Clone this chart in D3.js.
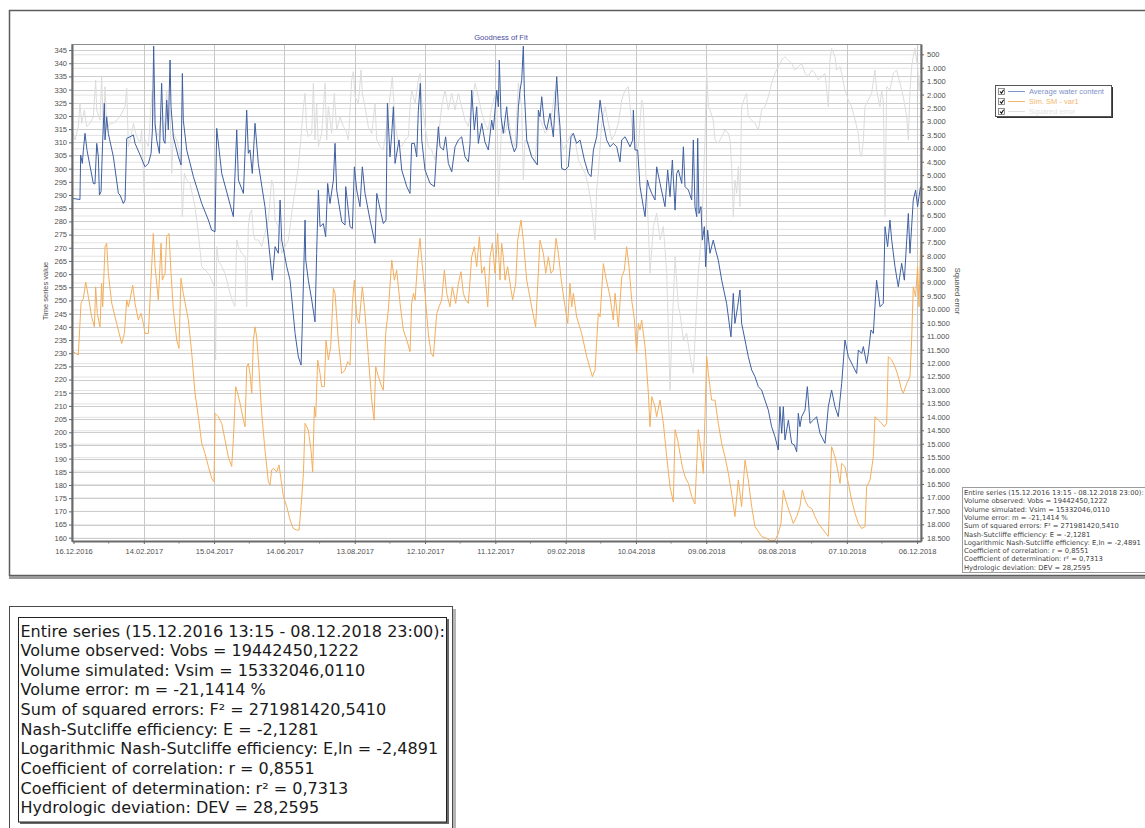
<!DOCTYPE html>
<html><head><meta charset="utf-8">
<script src="https://cdn.jsdelivr.net/npm/d3@7"></script>
<style>body{margin:0;background:#fff;overflow:hidden} svg{display:block}</style>
</head><body><svg id="c" width="1145" height="828"></svg>
<script>
// ---------- DATA ----------
const chartTitle = "Goodness of Fit";
const seriesNames = ["Average water content", "Sim. SM - var1", "Squared error"];
const baseDay = "15.12.2016"; // day offsets below are counted from this date
const xTickLabels = ["16.12.2016","14.02.2017","15.04.2017","14.06.2017","13.08.2017","12.10.2017","11.12.2017","09.02.2018","10.04.2018","09.06.2018","08.08.2018","07.10.2018","06.12.2018"];
const leftTicks = d3.range(160, 346, 5);
const rightTicks = d3.range(500, 18501, 500);

const obsDay = [0.6,6.5,7.1,8.5,9.4,10.8,12.5,17.9,19.3,20.8,22.2,23.1,24.5,25.9,27.3,27.9,29.3,30.7,35,39.3,40.7,43.5,45,46.4,49.2,52.1,53.5,57.8,62,64.9,67.2,68.3,69.4,70.6,72,74.3,76.2,77.7,79.1,80.5,81.9,83.4,84.2,86.2,90.5,92.8,93.9,94.7,97.6,103.3,110.4,116.1,118.9,121.8,123.2,127.5,137.4,140.3,141.7,146,148.8,150.2,151.6,153.6,155.9,158.7,164.4,168.7,170.7,173,175.8,177.3,178.7,183,185.8,190.1,192.9,195.2,196.3,198.6,199.2,201.4,204.3,207.1,208.5,210,211.4,214.2,216.2,217.9,219.9,222.8,224.2,225.6,229.9,232.7,233.3,237,239,240.7,242.7,245.5,247.5,249.8,254.1,258.3,259.8,263.5,265.4,267.7,268.9,271.1,272.6,274,275.4,278.8,281.1,285.4,288.2,289.6,291.9,293.9,295.3,297,298.2,301,305.3,309,311,312.4,313.8,316.7,318.6,320.9,323.8,326.6,329.5,332.3,335.1,338,339.4,340.8,343.1,345.1,346.5,349.4,352.2,355,357.9,359.3,362.2,363.6,364.4,365.9,367.8,370.7,372.1,375,377.2,379.2,380.7,382.1,383.5,384.9,385.8,387.8,392,396.9,397.7,399.1,400.6,402.8,404.8,407.7,410.5,413.4,414.8,416.2,417.6,420.5,423.3,425.6,427.6,430.4,433.3,437,440.4,442.7,444.7,447.5,450.4,453.2,456,458.9,461.7,464.6,467.4,468.9,471.7,473.1,476,478.2,478.8,480.2,482.5,484.5,487.3,488.8,490.8,492.2,494.5,497.3,498.7,501.6,505.8,508.1,510.1,512.1,514.4,515.8,517.2,520.1,521.5,522.9,525.8,528.6,530,531.4,532.9,533.7,534.8,536.5,537.7,539.4,540.5,542.2,544.2,547,549,551.3,554.2,558.4,562.1,564.1,565.5,567.8,569.8,571.2,574.1,576.9,579.8,582.6,585.5,588.3,591.1,594,596.8,599.7,602.5,603.9,605.4,606.8,608.2,611.1,613.9,616.2,618.2,619.6,621,622.4,625.3,627.3,629.6,632.4,635.2,638.1,642.4,645.2,648,650.9,653.7,656.6,659.4,662.3,666.5,669.4,670.8,673.7,675.1,677.9,679.3,681.6,683.6,685,686.4,689.3,692.1,693.6,695.8,697.8,699.3,702.1,704.9,707.8,710.1,712.1,713.5,714.9,716.3,717.7,719.7,721.4,722.6,723.9];
const obsVal = [288.7,288.3,305.2,302,307,313.4,307,294.4,294.2,309.6,304.5,290,291.3,310.9,324.8,310.9,319.7,313.4,304.5,290.6,290,286.8,288.1,311.5,312.1,312.8,309.6,305.2,300.7,302,305.8,314.7,346.5,317.2,310.9,305.8,332.4,310.9,309.6,326,314.7,341.2,323.5,312.1,304.5,301.4,336.1,318.4,307.1,297,286.8,280.5,276.7,276.1,315.3,298.2,281.8,314.7,295.7,290.6,322.2,305.8,307.1,298.2,317.2,302,285.6,266.6,257.7,270.4,267.9,288.1,272.9,262.8,257.7,237.5,228.6,225.5,241.3,280.5,265.3,257.7,250.2,241.9,267.9,291.9,278,279.2,274.2,294.4,286.8,295.7,309.6,291.9,279.9,278.6,293.2,278,277.3,300.7,291.9,285.6,300.7,290.6,280.5,271.7,290.6,283,279.2,280.5,324.8,304.5,313.4,323.5,302,310.9,299.5,293.2,290.6,309.6,309.6,304.5,322.2,332.4,310.9,299.5,294.4,293.2,307.1,315.9,308.3,307.1,312.1,302,298.8,308.3,310.9,312.1,304.5,302.6,309.6,329.8,314.7,323.5,309.6,317.2,310,307.1,318.4,314.7,329.8,323.5,341.2,319.7,313.4,323.5,315.9,309.6,306.4,308.3,323.5,329.8,333.6,346.5,328.6,310.9,304.5,301.4,322.2,319.7,327.3,317.2,314.7,321,312.1,334.9,323.5,315.9,300.1,299.5,300.7,312.1,313.4,309.6,310.9,303.3,298.2,297,307.1,312.1,326,317.2,310.9,308.3,309.6,308.3,302.6,310.9,312.1,310.9,308.3,310.9,322.2,307.1,307.1,293.2,285.6,281.8,295.7,293.2,290.6,288.1,300.7,294.4,285.6,299.5,289.4,303.3,284.3,298.2,299.5,294.4,308.3,293.2,291.9,288.1,310.9,285.6,281.8,311.5,283,285.6,272.9,278,262.8,276.7,267.9,272.9,269.1,265.3,257.7,248.9,236.2,252.7,241.3,247.6,254,241.3,235,228.7,223.6,221.1,217.3,216,212.2,208.4,202.1,198.3,193.3,209.7,199.6,209.7,197.1,204.6,195.8,195.2,192.6,207.2,202.1,205.9,208.4,217.3,203.4,204.6,205.9,199.6,195.8,209.7,216,209.7,205.9,218.5,235,228.7,224.9,222.3,231.2,229.9,232.5,226.1,229.9,238.8,237.5,247.6,257.7,247.6,248.9,278,270.4,280.5,272.9,262.8,255.2,264.1,257.7,272.9,283,267.9,278,288.1,291.9,285.6,289.4,293.2];

const simDay = [0.6,5.1,7.4,9.4,11.4,13.7,16.5,18.8,19.9,21.3,23.6,25,25.9,27.9,29.3,30.7,33.6,37.8,42.1,44.4,46.4,47.8,49.2,51.5,53.5,56.3,58.6,60.6,62,64.9,67.1,69.1,70.6,73.4,75.7,76.8,79.1,80.5,82.5,84.2,86.2,89.1,91,92.7,94.7,99,101.9,104.7,107.5,110.4,113.2,116.1,118.9,120.9,121.8,124.6,127.5,130.3,133.1,136,137.4,139.4,141.1,143.1,146,147.4,148.8,150.2,151.6,153.1,154.5,155.9,157.3,158.8,161.6,164.4,167.3,168.7,170.1,171.6,174.4,176.4,180.1,183,185.8,188.6,191.5,193.5,195.2,197.2,198.6,201.4,203.7,205.1,206.6,207.7,209.4,211.4,212.8,215.1,216.5,218.5,220.5,222.8,224.2,227,229.9,232.7,235,237,239,240.7,242.7,244.7,247.5,249.8,252.6,255.5,257.5,258.9,261.2,264,265.4,267.4,269.7,272.6,274.8,276.8,279.7,282.5,285.4,288.2,289.6,291.1,292.5,294.8,296.7,298.2,301,303.8,306.1,308.1,311,313,315.2,317.5,319.5,322.3,324.3,327.2,329.5,331.7,333.7,335.7,338,340.8,343.1,345.1,347.4,349.4,351.6,353.6,354.5,356.5,358.5,360.7,363,365,366.4,367.8,369.3,371.5,374.4,375.8,378.4,380.1,382.9,384.9,387.8,392,395.4,399.1,402,404,406.3,408.5,410.5,412.8,414.8,417.6,420.5,422.8,424.7,426.2,427.6,430.4,434.7,439,443.8,446.1,448.9,450.4,453.2,455.2,458.9,461.7,463.2,466,468.9,471.1,473.1,475.1,477.4,479.7,481.6,483.1,484.5,485.9,488.8,491.6,493,494.5,497.3,498.7,501.6,504.4,507.3,510.1,512.9,514.4,516.6,518.6,520.6,522.9,525.8,528.6,531.4,532.9,534.2,536.5,538.5,539.9,541.4,542.8,545.6,548.5,551.3,554.2,557,559.9,562.7,565.5,568.4,571.2,574.1,576.9,579.8,582.6,588.3,592.6,595.4,599.7,602.5,604.8,606.8,608.8,612.5,615.3,618.2,621,623,625.3,628.1,631,633.8,636.7,640.9,645.2,646.6,648,650.9,653.7,655.2,656.6,659.4,662.3,665.1,668,670.8,673.7,676.5,677.9,680.8,683.6,685,687.9,690.7,693,695,696.4,699.3,702.1,704.9,707.8,709.2,712.1,714.9,716.3,717.7,719.7,721.4,722.6,723.9];
const simVal = [230.6,229.3,249,250.8,257,251.4,243.8,240,255.2,245.1,240,256.5,247.6,270.4,271.7,260.3,249,241.3,233.7,237.5,250.2,247.6,250.2,255.8,248.9,242.6,245.1,241.3,237.5,237.5,257.7,275.4,262.8,250.2,271.7,257.7,260.3,274.2,275.4,260.3,246.4,235,231.8,258.4,252.7,242.6,230,214.8,206,195.8,192,187,182.5,181.2,207.2,205.9,203.4,197.1,190.7,187,197.1,217.3,214.8,211,204.6,202.1,224.9,226.1,222.3,214.8,235,240,236.2,227.4,207.2,193.3,181.2,180,185.7,186.3,185,187.6,175.6,171.8,166.7,163.5,162.9,162.9,171.8,184.4,203.4,200.8,193.3,185,209.7,205.9,227.4,222.3,217.3,217.3,235,227.4,232.5,254.6,252.7,235,222.3,223.6,226.8,225.5,248.9,257.7,243.8,241.3,255.2,245.1,228.7,212.2,204.6,224.9,221.1,217.3,216,237.5,246.4,265.3,257.7,261.5,248.9,238.8,235,230.6,248.9,252.7,250.2,265.3,273.6,265.3,252.7,237.5,230,228.7,245.1,247.6,250.2,261.5,252.7,247.6,255.2,248.9,256.5,260.9,252.7,250.2,248.9,266.6,270.4,262.8,274.2,260.3,262.8,252.7,247.6,266.6,271.7,260.3,275.4,257.7,271.7,266.6,257.7,262.8,254,250.2,256.5,272.9,280.5,272.9,257.7,247.6,240,272.9,267.9,260.3,266.6,260.3,261.5,273.6,267.9,256.5,247.6,241.3,256.5,247.6,252.7,243.8,237.5,228.7,221.1,223.6,245.1,243.8,264,259,251.4,242.6,252.7,240,259,261.5,270.4,262.8,250.2,242.6,230,241.3,238.8,242.6,232.5,214.8,202.1,213.5,209.7,205.9,212.2,203.4,190.7,179.3,173.6,201,197.1,192,186.9,183.1,180.6,175.6,172.8,188.2,201,193.3,184.4,205.9,228.7,222.3,212.2,212.2,203.4,195.8,190.7,184.4,176.8,168,181.9,171.8,189.4,181.9,171.8,164.2,160.5,159.7,159,159,161.6,165.4,178,174.3,169.2,165.4,168,171.8,178.1,174.3,171.8,171.1,168,165.4,162.9,160.5,178.1,194.5,190.7,184.4,180.6,188.2,186.9,180.6,174.3,169.2,165.4,163.5,164.2,179.3,181.9,190.7,205.9,204.6,203.4,202.1,203.4,228.7,227.4,224.9,221.1,216,214.8,218.5,221.1,235,255.2,251.4,262.8,247.6,270.4];

const errDay = [0.6,2.3,5.1,6.5,8,10.2,12.2,15.1,17.9,19.9,20.8,23.6,25,26.5,27.9,29.3,32.1,35,37.8,40.7,43.5,45,46.4,47.8,50.6,52.1,54.9,57.8,59.2,61.2,62,64.9,67.1,68.3,69.4,70.6,73.4,76.2,77.7,79.1,80.5,81.9,83.4,84.8,86.2,89.1,91,92.7,93.9,95.6,97.6,100.4,104.7,107.5,110.4,113.2,116.1,118.9,121.2,122.3,123.2,124.6,127.5,130.3,134.6,137.4,138.8,140.3,141.7,144.5,147.4,148.8,150.2,151.6,153.1,154.5,155.9,158.8,161.6,164.4,167.3,170.1,171.6,173,175.8,177.3,178.7,181.5,184.4,187.2,190.1,192.9,195.2,197.2,198.6,200,201.4,204.3,205.7,207.1,208.5,210,212.8,215.7,217.1,218.5,221.3,223.6,225.6,228.5,231.3,233.3,235.6,238.4,239.8,241.3,244.1,246.4,247.5,249.8,252.6,255.5,258.3,259.8,262.6,265.4,268.3,271.1,273.1,275.4,278.2,281.1,284,286.8,288.2,289.6,292.5,295.3,296.7,298.2,301,303.8,306.7,309.5,312.4,315.2,318.1,320.9,323.8,326.6,329.5,332.3,335.1,338,340.8,343.7,346.5,349.4,352.2,355.1,357.9,362.2,363.6,366.4,369.3,372.1,375,377.8,380.7,383.5,384.9,386.3,389.2,392,394.9,397.7,400.6,403.4,407.7,412,413.4,416.2,419.1,421.9,426.2,429,431.9,434.7,437.6,440.4,443.2,446.1,447.5,448.9,451.8,454.6,457.5,460.3,463.2,466,468.9,471.7,474.5,477.4,480.2,483.1,485.9,487.3,488.8,491.6,493,495.9,498.7,501.6,504.4,507.3,510.1,511.5,514.4,517.2,518.6,521.5,524.3,527.2,530,531.4,534.2,537.1,539.9,541.4,542.8,544.2,547,548.5,551.3,554.2,557,559.9,561.3,562.7,564.1,565.5,567,568.4,569.8,571.2,574.1,575.5,576.9,579.8,582.6,585.5,588.3,591.1,594,596.8,599.7,602.5,605.4,608.2,611.1,613.9,616.8,619.6,622.4,625.3,628.1,631,633.8,636.7,639.5,642.4,645.2,646.6,648,650.9,652.3,655.2,656.6,659.4,662.3,665.1,668,670.8,672.2,673.7,675.1,676.5,679.3,682.2,685,686.4,689.3,690.7,692.1,693.6,695,697.8,700.7,703.5,706.4,709.2,712.1,713.5,714.9,716.3,717.7,719.1,721.4,722.6,723.9];
const errVal = [3442,3690,3194,2325,3070,2573,3194,3070,2821,1456,2573,2945,1332,3442,1704,3318,3070,3070,2945,2821,2573,2449,1766,3938,3442,3070,3566,3814,3318,5676,3690,3938,2449,1829,2821,3318,3566,2821,3442,2945,1829,3070,2573,4931,3442,3690,4062,4559,6544,4931,5179,5303,6172,7165,8406,8530,8654,8902,9150,11881,7661,8158,8406,8654,9399,9771,9895,7413,7661,7909,8034,9895,6917,6420,6296,7165,7413,7413,7661,7165,6668,5179,5427,6668,6917,7289,7909,7661,7413,6420,5552,4683,3566,2449,1953,3318,3566,3442,1580,3690,2325,3938,3442,1580,3690,2449,3442,1953,3318,2821,3194,3318,3690,1456,1146,2077,2325,1084,1953,2449,3194,3442,2325,3690,3938,4062,3194,2077,1332,3070,3814,3938,3690,3566,2449,1829,2325,1456,1208,2201,3194,3938,4062,4435,3566,2449,1829,2573,1953,2573,1953,2449,2945,3194,2449,1580,2077,2697,3070,3318,2449,1829,5800,3070,3442,2821,3690,3938,1580,2449,5179,3690,3814,4311,4559,2821,3070,3442,3194,1829,2449,3442,4062,3814,3442,3690,4435,4683,4931,5427,6172,7413,5552,4931,3070,2449,3070,3690,3442,3070,2201,1829,1704,3070,4062,3938,2201,2449,4311,6917,8654,6917,6420,7413,6917,8654,12998,11136,8034,9895,10143,11136,10888,11757,12377,11136,8654,7165,3690,1084,2449,2573,2945,3690,3814,3566,3318,3442,3690,4683,6544,5179,5676,4683,6172,2449,2077,1953,2821,2945,3070,3318,2573,2449,2077,1580,1208,960,712,588,712,836,1084,960,836,1208,1332,1084,1208,1456,1332,1208,2449,712,277,588,1084,960,1208,1829,2201,2449,2945,3442,4187,4311,3690,2449,2201,1953,1084,1829,2449,1829,2201,6544,1704,1829,1208,1084,1580,2077,2821,3690,1829,960,588,277,960,1829,1208];

const statsLines = [
  "Entire series (15.12.2016 13:15 - 08.12.2018 23:00):",
  "Volume observed: Vobs = 19442450,1222",
  "Volume simulated: Vsim = 15332046,0110",
  "Volume error: m = -21,1414 %",
  "Sum of squared errors: F\u00B2 = 271981420,5410",
  "Nash-Sutcliffe efficiency: E = -2,1281",
  "Logarithmic Nash-Sutcliffe efficiency: E,ln = -2,4891",
  "Coefficient of correlation: r = 0,8551",
  "Coefficient of determination: r\u00B2 = 0,7313",
  "Hydrologic deviation: DEV = 28,2595"
];

// ---------- SETUP ----------
const svg = d3.select("#c");
const F = "'Liberation Sans', Arial, sans-serif";
const FD = "'DejaVu Sans', Verdana, sans-serif";
const parse = d3.utcParse("%d.%m.%Y");
const fmt = d3.utcFormat("%d.%m.%Y");
const base = parse(baseDay);
const toDate = d => new Date(base.getTime() + d * 86400000);
const loc = d3.formatLocale({decimal: ",", thousands: ".", grouping: [3], currency: ["", ""]});

const P = {l: 72, r: 921, t: 44, b: 541};
const x = d3.scaleUtc().domain([toDate(-0.3), toDate(724.3)]).range([P.l, P.r]);
const yL = d3.scaleLinear().domain([158.75, 347.3]).range([P.b, P.t]);
const yR = d3.scaleLinear().domain([116, 18623]).range([P.t, P.b]);

const colObs = "#3e5fa2", colSim = "#f5ae5a", colErr = "#dcdcdc";

// outer frame of the chart panel
svg.append("rect").attr("x", 9.5).attr("y", 10.5).attr("width", 1150).attr("height", 565)
  .attr("fill", "#fff").attr("stroke", "#5d5d5d").attr("stroke-width", 1.5);
svg.append("line").attr("x1", 9).attr("x2", 1145).attr("y1", 577.5).attr("y2", 577.5)
  .attr("stroke", "#9a9a9a").attr("stroke-width", 3);

// title
svg.append("text").attr("x", 501).attr("y", 40.3).attr("text-anchor", "middle")
  .attr("font-family", F).attr("font-size", 7.6).attr("fill", "#4d4d9c").text(chartTitle);

// grid
const g = svg.append("g");
const xMajor = xTickLabels.map(parse);
g.selectAll(".hgR").data(rightTicks).join("line")
  .attr("x1", P.l).attr("x2", P.r).attr("y1", d => yR(d) + 0.5).attr("y2", d => yR(d) + 0.5)
  .attr("stroke", "#e2e2e2").attr("stroke-width", 1);
g.selectAll(".hgL").data(leftTicks).join("line")
  .attr("x1", P.l).attr("x2", P.r).attr("y1", d => Math.round(yL(d)) + 0.5).attr("y2", d => Math.round(yL(d)) + 0.5)
  .attr("stroke", "#cdcdcd").attr("stroke-width", 1);
g.selectAll(".vg").data(xMajor.slice(1)).join("line")
  .attr("x1", d => Math.round(x(d)) + 0.5).attr("x2", d => Math.round(x(d)) + 0.5).attr("y1", P.t).attr("y2", P.b)
  .attr("stroke", "#c8c8c8").attr("stroke-width", 1);

// plot frame
svg.append("rect").attr("x", P.l).attr("y", P.t + 0.5).attr("width", P.r - P.l).attr("height", P.b - P.t)
  .attr("fill", "none").attr("stroke", "#8c8c8c").attr("stroke-width", 1);

// series
svg.append("clipPath").attr("id", "clp").append("rect")
  .attr("x", P.l).attr("y", P.t).attr("width", P.r - P.l).attr("height", P.b - P.t);
const zip = (a, b) => a.map((d, i) => [d, b[i]]);
const lineL = d3.line().x(d => x(toDate(d[0]))).y(d => yL(d[1]));
const lineR = d3.line().x(d => x(toDate(d[0]))).y(d => yR(d[1]));
const sg = svg.append("g").attr("clip-path", "url(#clp)");
sg.append("path").datum(zip(errDay, errVal)).attr("d", lineR).attr("fill", "none")
  .attr("stroke", colErr).attr("stroke-width", 1).attr("stroke-linejoin", "round");
sg.append("path").datum(zip(simDay, simVal)).attr("d", lineL).attr("fill", "none")
  .attr("stroke", colSim).attr("stroke-width", 1).attr("stroke-linejoin", "round");
sg.append("path").datum(zip(obsDay, obsVal)).attr("d", lineL).attr("fill", "none")
  .attr("stroke", colObs).attr("stroke-width", 1).attr("stroke-linejoin", "round");

// axes
function styleAxis(sel) {
  sel.selectAll("text").attr("font-family", F).attr("font-size", 7.5).attr("fill", "#505050");
  sel.selectAll("line").attr("stroke", "#666");
  sel.select(".domain").attr("stroke", "#6a6a6a").attr("stroke-width", 2);
}
const axL = svg.append("g").attr("transform", `translate(${P.l},0)`)
  .call(d3.axisLeft(yL).tickValues(leftTicks).tickSize(3).tickPadding(2).tickSizeOuter(0));
styleAxis(axL);
const axR = svg.append("g").attr("transform", `translate(${P.r},0)`)
  .call(d3.axisRight(yR).tickValues(rightTicks).tickFormat(loc.format(",")).tickSize(3).tickPadding(3).tickSizeOuter(0));
styleAxis(axR);
const axB = svg.append("g").attr("transform", `translate(0,${P.b})`)
  .call(d3.axisBottom(x).tickValues(xMajor).tickFormat(fmt).tickSize(3).tickPadding(5).tickSizeOuter(0));
styleAxis(axB);
const xMinor = xMajor.slice(0, -1).map(d => d3.utcDay.offset(d, 30));
svg.append("g").selectAll("line").data(xMinor).join("line")
  .attr("x1", d => x(d)).attr("x2", d => x(d)).attr("y1", P.b).attr("y2", P.b + 2.5).attr("stroke", "#777");

// axis titles
svg.append("text").attr("transform", "translate(48,291) rotate(-90)").attr("text-anchor", "middle")
  .attr("font-family", F).attr("font-size", 7.5).attr("fill", "#505050").text("Time series value");
svg.append("text").attr("transform", "translate(955,291) rotate(90)").attr("text-anchor", "middle")
  .attr("font-family", F).attr("font-size", 7.5).attr("fill", "#505050").text("Squared error");

// legend
const lg = svg.append("g");
lg.append("rect").attr("x", 997).attr("y", 87).attr("width", 116).attr("height", 31).attr("fill", "#333");
lg.append("rect").attr("x", 995.5).attr("y", 85.5).attr("width", 116).attr("height", 31)
  .attr("fill", "#fff").attr("stroke", "#555");
const legText = ["#7d93c9", "#f4b670", "#e3e3e3"];
const legLine = ["#7d93c9", "#f4b670", "#e0e0e0"];
seriesNames.forEach((n, i) => {
  const cy = 91.5 + i * 10;
  lg.append("rect").attr("x", 998.5).attr("y", cy - 3).attr("width", 6).attr("height", 6)
    .attr("fill", "#fff").attr("stroke", "#777").attr("stroke-width", 0.8);
  lg.append("path").attr("d", `M${1000},${cy} L${1001.5},${cy + 1.7} L${1003.6},${cy - 1.8}`)
    .attr("fill", "none").attr("stroke", "#111").attr("stroke-width", 1.1);
  lg.append("line").attr("x1", 1008).attr("x2", 1025).attr("y1", cy).attr("y2", cy)
    .attr("stroke", legLine[i]).attr("stroke-width", 1);
  lg.append("text").attr("x", 1029).attr("y", cy + 2.7).attr("font-family", F).attr("font-size", 7.5)
    .attr("fill", legText[i]).text(n);
});

// fitting helper
function fitLines(gsel, lines, x0, y0, step, targetW, family, color) {
  const t0 = gsel.append("text").attr("font-family", family).attr("font-size", 10).text(lines[0]);
  const w = t0.node().getComputedTextLength();
  t0.remove();
  const fs = 10 * targetW / w;
  lines.forEach((s, i) => {
    gsel.append("text").attr("x", x0).attr("y", y0 + i * step).attr("font-family", family)
      .attr("font-size", fs).attr("fill", color).text(s);
  });
}

// stats box inside chart
const sb = svg.append("g");
sb.append("rect").attr("x", 962.5).attr("y", 487.5).attr("width", 200).attr("height", 85)
  .attr("fill", "#fff").attr("stroke", "#9c9c9c");
fitLines(sb, statsLines, 964, 495, 8.3, 180, FD, "#404040");

// lower enlarged stats panel
const lb = svg.append("g");
lb.append("rect").attr("x", 12).attr("y", 609).attr("width", 444).attr("height", 240).attr("fill", "#b5b5b5");
lb.append("rect").attr("x", 9.5).attr("y", 606.5).attr("width", 443).attr("height", 240)
  .attr("fill", "#fff").attr("stroke", "#4a4a4a");
lb.append("rect").attr("x", 20).attr("y", 619).attr("width", 429).attr("height", 205).attr("fill", "#6a6a6a");
lb.append("rect").attr("x", 18.5).attr("y", 617.5).attr("width", 428).attr("height", 204.5)
  .attr("fill", "#fff").attr("stroke", "#222");
fitLines(lb, statsLines, 20.5, 636.5, 19.65, 425, FD, "#1a1a1a");
</script></body></html>
